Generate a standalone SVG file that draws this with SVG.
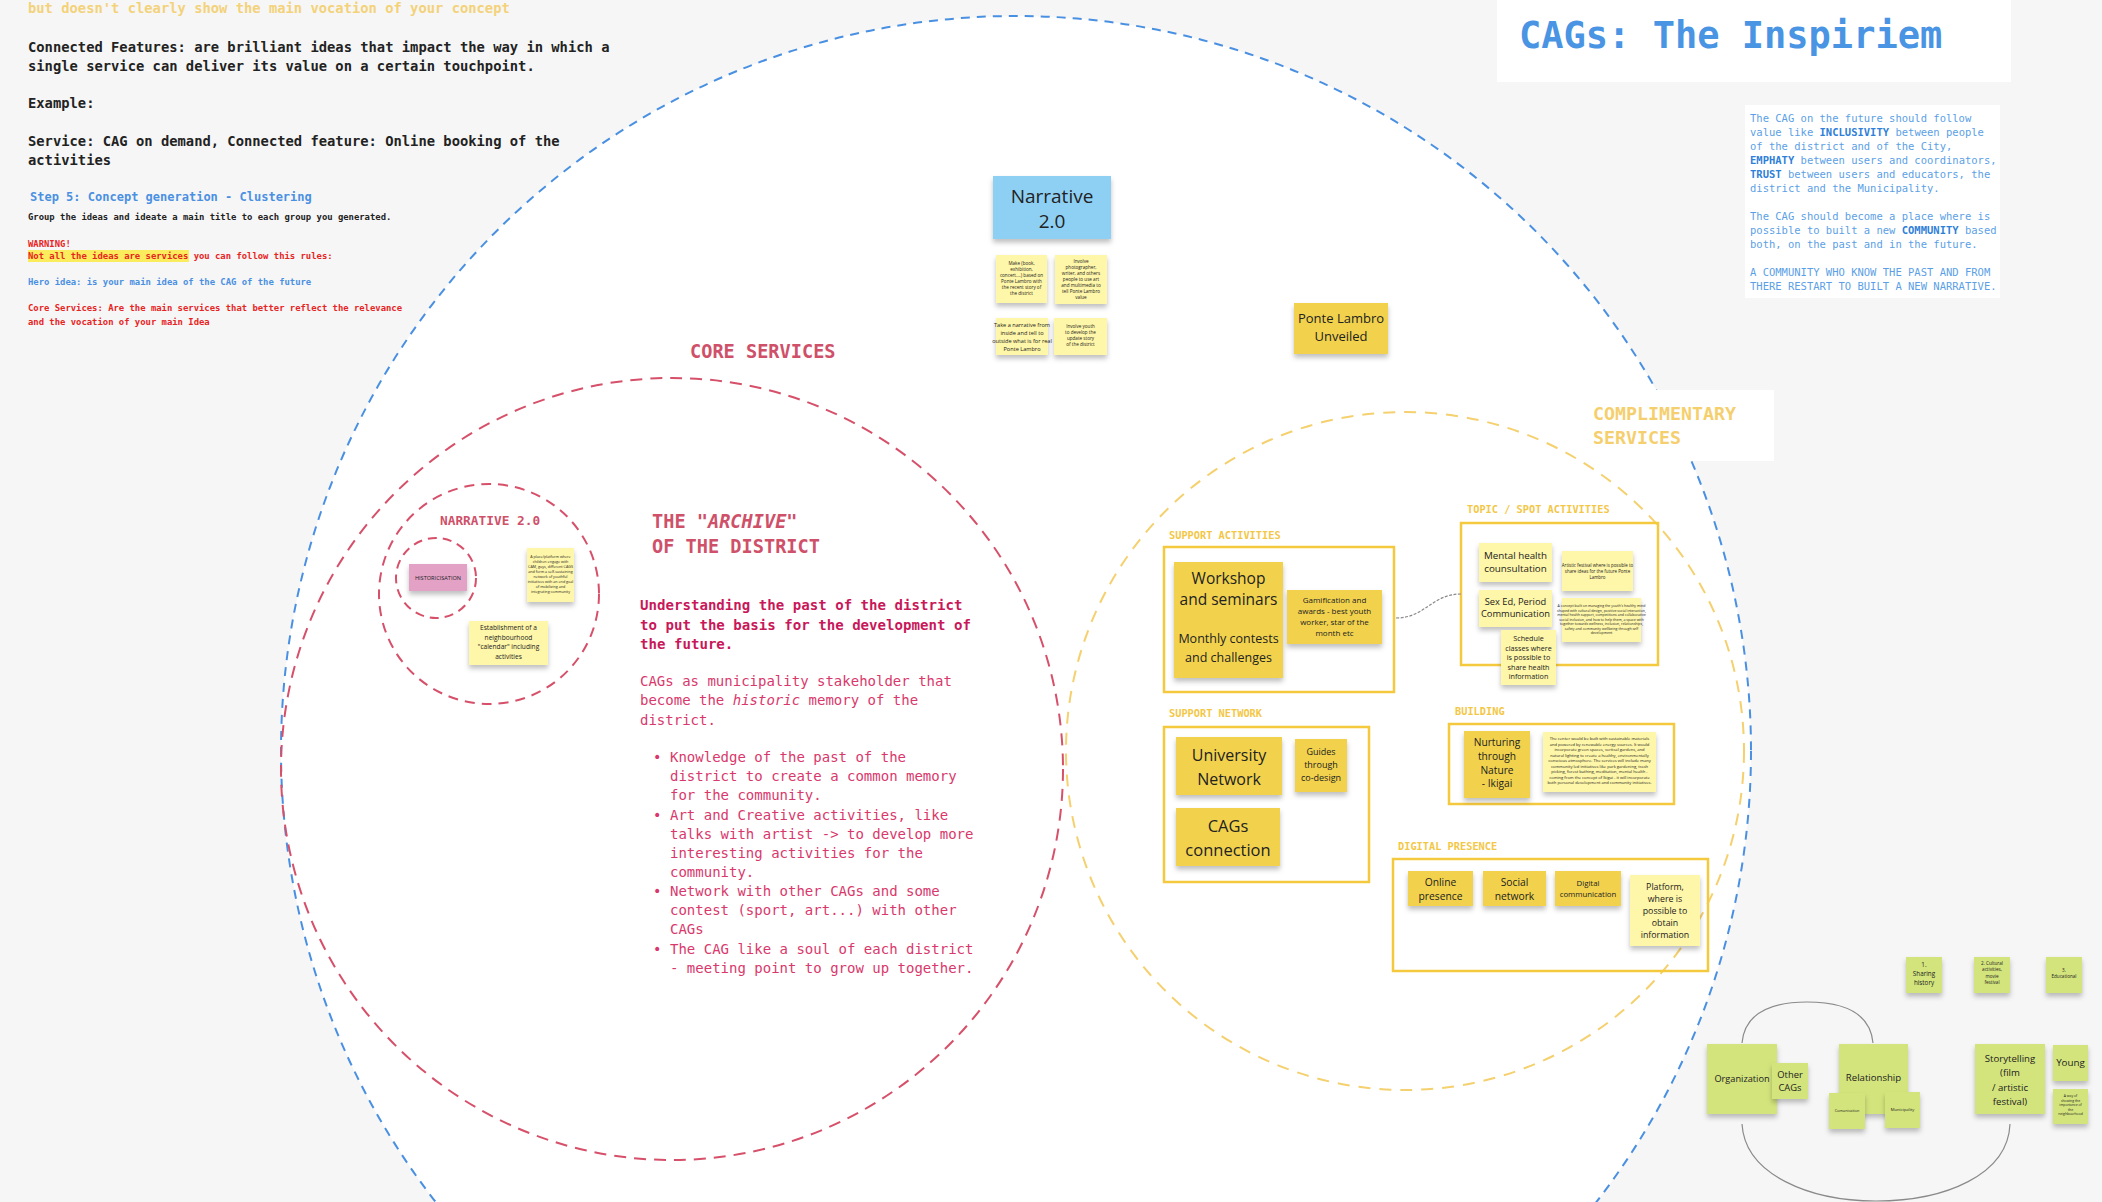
<svg xmlns="http://www.w3.org/2000/svg" width="2102" height="1202" viewBox="0 0 2102 1202">
<defs>
<filter id="sh" x="-15%" y="-15%" width="130%" height="150%">
<feDropShadow dx="0" dy="3.5" stdDeviation="2.5" flood-color="#000" flood-opacity="0.25"/>
</filter>
</defs>
<style>
.mono{font-family:"DejaVu Sans Mono","Liberation Mono",monospace}
.sans{font-family:"Open Sans","Noto Sans","Liberation Sans",sans-serif;fill:#222}
.b{font-weight:bold}
.c{text-anchor:middle}
.dy{fill:#f2d24e}
.py{fill:#fef6a8}
.gr{fill:#d3e47c}
.st{filter:url(#sh)}
.box{fill:none;stroke:#f5c93e;stroke-width:2.5}
.lab{font-family:"DejaVu Sans Mono","Liberation Mono",monospace;font-weight:bold;font-size:10.3px;fill:#f3c746}
.core{fill:#d9386c;font-size:14px}
.bl{fill:#5c9fe6;font-size:10.5px}
</style>
<rect x="0" y="0" width="2102" height="1202" fill="#f6f6f6"/>
<circle id="outer-circle" cx="1016" cy="751" r="735" fill="#ffffff" stroke="#4a90e2" stroke-width="2" stroke-dasharray="9 7"/>

<g id="instructions" class="mono">
<text x="28" y="13" font-size="13.8" class="b" fill="#f3d27a">but doesn't clearly show the main vocation of your concept</text>
<text x="28" y="52" font-size="13.8" class="b" fill="#222">Connected Features: are brilliant ideas that impact the way in which a</text>
<text x="28" y="71" font-size="13.8" class="b" fill="#222">single service can deliver its value on a certain touchpoint.</text>
<text x="28" y="108" font-size="13.8" class="b" fill="#222">Example:</text>
<text x="28" y="146" font-size="13.8" class="b" fill="#222">Service: CAG on demand, Connected feature: Online booking of the</text>
<text x="28" y="165" font-size="13.8" class="b" fill="#222">activities</text>
<text x="30" y="201" font-size="12" class="b" fill="#4a90e2">Step 5: Concept generation - Clustering</text>
<text x="28" y="220" font-size="8.9" class="b" fill="#222">Group the ideas and ideate a main title to each group you generated.</text>
<text x="28" y="247" font-size="8.9" class="b" fill="#e8241f">WARNING!</text>
<rect x="28" y="250" width="161" height="12" fill="#fbec5d"/>
<text x="28" y="259" font-size="8.9" class="b" fill="#e8241f">Not all the ideas are services you can follow this rules:</text>
<text x="28" y="285" font-size="8.9" class="b" fill="#4a90e2">Hero idea: is your main idea of the CAG of the future</text>
<text x="28" y="311" font-size="8.9" class="b" fill="#e8241f">Core Services: Are the main services that better reflect the relevance</text>
<text x="28" y="325" font-size="8.9" class="b" fill="#e8241f">and the vocation of your main Idea</text>
</g>

<g id="title">
<rect x="1497" y="0" width="514" height="82" fill="#ffffff"/>
<text x="1519" y="48" class="mono b" font-size="37" fill="#4a94e4">CAGs: The Inspiriem</text>
</g>

<g id="values-note" class="mono">
<rect x="1745" y="105" width="255" height="193" fill="#ffffff"/>
<text x="1750" y="122" class="bl">The CAG on the future should follow</text>
<text x="1750" y="136" class="bl">value like <tspan font-weight="bold" fill="#2f7fd8">INCLUSIVITY</tspan> between people</text>
<text x="1750" y="150" class="bl">of the district and of the City,</text>
<text x="1750" y="164" class="bl"><tspan font-weight="bold" fill="#2f7fd8">EMPHATY</tspan> between users and coordinators,</text>
<text x="1750" y="178" class="bl"><tspan font-weight="bold" fill="#2f7fd8">TRUST</tspan> between users and educators, the</text>
<text x="1750" y="192" class="bl">district and the Municipality.</text>
<text x="1750" y="220" class="bl">The CAG should become a place where is</text>
<text x="1750" y="234" class="bl">possible to built a new <tspan font-weight="bold" fill="#2f7fd8">COMMUNITY</tspan> based</text>
<text x="1750" y="248" class="bl">both, on the past and in the future.</text>
<text x="1750" y="276" class="bl">A COMMUNITY WHO KNOW THE PAST AND FROM</text>
<text x="1750" y="290" class="bl">THERE RESTART TO BUILT A NEW NARRATIVE.</text>
</g>

<g id="core-services">
<circle cx="672" cy="769" r="391" fill="none" stroke="#d6506a" stroke-width="2" stroke-dasharray="12 8"/>
<text x="690" y="358" class="mono b" font-size="18.6" fill="#cf5069">CORE SERVICES</text>
<text x="652" y="528" class="mono b" font-size="18.6" fill="#cf5069">THE "<tspan font-style="italic">ARCHIVE</tspan>"</text>
<text x="652" y="553" class="mono b" font-size="18.6" fill="#cf5069">OF THE DISTRICT</text>
<g class="mono">
<text x="640" y="610" class="b" font-size="14.1" fill="#c8185a">Understanding the past of the district</text>
<text x="640" y="629.5" class="b" font-size="14.1" fill="#c8185a">to put the basis for the development of</text>
<text x="640" y="649" class="b" font-size="14.1" fill="#c8185a">the future.</text>
<text x="640" y="686" class="core">CAGs as municipality stakeholder that</text>
<text x="640" y="705" class="core">become the <tspan font-style="italic">historic</tspan> memory of the</text>
<text x="640" y="725" class="core">district.</text>
<g class="core">
<text x="653" y="762">•</text><text x="670" y="762">Knowledge of the past of the</text>
<text x="670" y="781">district to create a common memory</text>
<text x="670" y="800">for the community.</text>
<text x="653" y="820">•</text><text x="670" y="820">Art and Creative activities, like</text>
<text x="670" y="839">talks with artist -&gt; to develop more</text>
<text x="670" y="858">interesting activities for the</text>
<text x="670" y="877">community.</text>
<text x="653" y="896">•</text><text x="670" y="896">Network with other CAGs and some</text>
<text x="670" y="915">contest (sport, art...) with other</text>
<text x="670" y="934">CAGs</text>
<text x="653" y="954">•</text><text x="670" y="954">The CAG like a soul of each district</text>
<text x="670" y="973">- meeting point to grow up together.</text>
</g>
</g>
</g>

<g id="narrative-circle">
<circle cx="489" cy="594" r="110" fill="none" stroke="#d6506a" stroke-width="2" stroke-dasharray="10 7"/>
<circle cx="436" cy="578" r="40" fill="none" stroke="#d6506a" stroke-width="2" stroke-dasharray="9 6"/>
<text x="440" y="525" class="mono b" font-size="12.8" fill="#cf5069">NARRATIVE 2.0</text>
</g>
<g id="historicisation">
<rect x="409" y="564" width="58" height="27" fill="#e3a1c6" class="st"/>
<text x="438" y="580" class="sans c" font-size="5.6">HISTORICISATION</text>
</g>
<g id="platform-note">
<rect x="527" y="548" width="47" height="54" class="py st"/>
<g class="sans c" font-size="3.7">
<text x="550.5" y="558">A place/platform where</text>
<text x="550.5" y="563">children engage with</text>
<text x="550.5" y="568">CAM, guys, different CAGS</text>
<text x="550.5" y="573">and form a self-sustaining</text>
<text x="550.5" y="578">network of youthful</text>
<text x="550.5" y="583">initiatives with an end goal</text>
<text x="550.5" y="588">of mobilizing and</text>
<text x="550.5" y="593">integrating community</text>
</g>
</g>
<g id="calendar">
<rect x="469" y="621" width="79" height="44" class="py st"/>
<g class="sans c" font-size="6.6">
<text x="508.5" y="630">Establishment of a</text>
<text x="508.5" y="639.5">neighbourhood</text>
<text x="508.5" y="649">"calendar" including</text>
<text x="508.5" y="658.5">activities</text>
</g>
</g>

<g id="narrative-hero">
<rect x="993" y="176" width="118" height="63" fill="#8ed0f4" class="st"/>
<text x="1052" y="203" class="sans c" font-size="19">Narrative</text>
<text x="1052" y="228" class="sans c" font-size="19">2.0</text>
</g>
<g id="narrative-a">
<rect x="996" y="255" width="51" height="48" class="py st"/>
<g class="sans c" font-size="4.6">
<text x="1021.5" y="265">Make (book,</text>
<text x="1021.5" y="271">exhibition,</text>
<text x="1021.5" y="277">concert....) based on</text>
<text x="1021.5" y="283">Ponte Lambro with</text>
<text x="1021.5" y="289">the recent story of</text>
<text x="1021.5" y="295">the district</text>
</g>
</g>
<g id="narrative-b">
<rect x="1055" y="255" width="52" height="49" class="py st"/>
<g class="sans c" font-size="4.6">
<text x="1081" y="263">Involve</text>
<text x="1081" y="269">photographer,</text>
<text x="1081" y="275">writer, and others</text>
<text x="1081" y="281">people to use art</text>
<text x="1081" y="287">and multimedia to</text>
<text x="1081" y="293">tell Ponte Lambro</text>
<text x="1081" y="299">value</text>
</g>
</g>
<g id="narrative-c">
<rect x="996" y="318" width="52" height="37" class="py st"/>
<g class="sans c" font-size="5.6">
<text x="1022" y="327">Take a narrative from</text>
<text x="1022" y="335">inside and tell to</text>
<text x="1022" y="343">outside what is for real</text>
<text x="1022" y="351">Ponte Lambro</text>
</g>
</g>
<g id="narrative-d">
<rect x="1054" y="318" width="53" height="37" class="py st"/>
<g class="sans c" font-size="4.6">
<text x="1080.5" y="328">Involve youth</text>
<text x="1080.5" y="334">to develop the</text>
<text x="1080.5" y="340">update story</text>
<text x="1080.5" y="346">of the district</text>
</g>
</g>
<g id="ponte-lambro">
<rect x="1294" y="303" width="94" height="51" class="dy st"/>
<text x="1341" y="323" class="sans c" font-size="13">Ponte Lambro</text>
<text x="1341" y="341" class="sans c" font-size="13">Unveiled</text>
</g>

<g id="complementary-services">
<circle cx="1405" cy="751" r="339" fill="none" stroke="#f5d06e" stroke-width="2" stroke-dasharray="12 9"/>
<rect x="1577" y="390" width="197" height="71" fill="#ffffff"/>
<text x="1593" y="420" class="mono b" font-size="18.3" fill="#f5cf6e">COMPLIMENTARY</text>
<text x="1593" y="444" class="mono b" font-size="18.3" fill="#f5cf6e">SERVICES</text>
</g>

<g id="support-activities">
<text x="1169" y="539" class="lab">SUPPORT ACTIVITIES</text>
<rect x="1164" y="547" width="230" height="145" class="box"/>
<rect x="1174" y="562" width="109" height="116" class="dy st"/>
<text x="1228.5" y="584" class="sans c" font-size="15.5">Workshop</text>
<text x="1228.5" y="605" class="sans c" font-size="15.5">and seminars</text>
<text x="1228.5" y="643" class="sans c" font-size="12.5">Monthly contests</text>
<text x="1228.5" y="662" class="sans c" font-size="12.5">and challenges</text>
<rect x="1287" y="590" width="95" height="54" class="dy st"/>
<g class="sans c" font-size="8">
<text x="1334.5" y="603">Gamification and</text>
<text x="1334.5" y="614">awards - best youth</text>
<text x="1334.5" y="625">worker, star of the</text>
<text x="1334.5" y="636">month etc</text>
</g>
</g>

<g id="topic-spot">
<text x="1467" y="513" class="lab">TOPIC / SPOT ACTIVITIES</text>
<rect x="1461" y="523" width="197" height="142" class="box"/>
<rect x="1479" y="543" width="73" height="39" class="py st"/>
<text x="1515.5" y="559" class="sans c" font-size="9.8">Mental health</text>
<text x="1515.5" y="572" class="sans c" font-size="9.8">counsultation</text>
<rect x="1562" y="551" width="71" height="40" class="py st"/>
<g class="sans c" font-size="4.4">
<text x="1597.5" y="567">Artistic festival where is possible to</text>
<text x="1597.5" y="573">share ideas for the future Ponte</text>
<text x="1597.5" y="579">Lambro</text>
</g>
<rect x="1479" y="590" width="73" height="37" class="py st"/>
<text x="1515.5" y="605" class="sans c" font-size="9.3">Sex Ed, Period</text>
<text x="1515.5" y="617" class="sans c" font-size="9.3">Communication</text>
<rect x="1562" y="598" width="79" height="44" class="py st"/>
<g class="sans c" font-size="3.5">
<text x="1601.5" y="607">A concept built on managing the youth's healthy mind</text>
<text x="1601.5" y="611.5">shaped with cultural design, positive social interaction,</text>
<text x="1601.5" y="616">mental health support, competitions and collaborative</text>
<text x="1601.5" y="620.5">social inclusion, and how to help them, a space with</text>
<text x="1601.5" y="625">together towards wellness, inclusion, relationships,</text>
<text x="1601.5" y="629.5">safety and community wellbeing through self</text>
<text x="1601.5" y="634">development</text>
</g>
<rect x="1501" y="630" width="55" height="55" class="py st"/>
<g class="sans c" font-size="7.2">
<text x="1528.5" y="641">Schedule</text>
<text x="1528.5" y="650.5">classes where</text>
<text x="1528.5" y="660">is possible to</text>
<text x="1528.5" y="669.5">share health</text>
<text x="1528.5" y="679">information</text>
</g>
</g>

<g id="support-network">
<text x="1169" y="717" class="lab">SUPPORT NETWORK</text>
<rect x="1164" y="727" width="205" height="155" class="box"/>
<rect x="1176" y="737" width="106" height="58" class="dy st"/>
<text x="1229" y="761" class="sans c" font-size="16">University</text>
<text x="1229" y="785" class="sans c" font-size="16">Network</text>
<rect x="1295" y="739" width="52" height="53" class="dy st"/>
<text x="1321" y="755" class="sans c" font-size="9">Guides</text>
<text x="1321" y="768" class="sans c" font-size="9">through</text>
<text x="1321" y="781" class="sans c" font-size="9">co-design</text>
<rect x="1176" y="808" width="104" height="58" class="dy st"/>
<text x="1228" y="832" class="sans c" font-size="16.5">CAGs</text>
<text x="1228" y="856" class="sans c" font-size="16.5">connection</text>
</g>

<g id="building">
<text x="1455" y="715" class="lab">BUILDING</text>
<rect x="1449" y="724" width="225" height="80" class="box"/>
<rect x="1464" y="731" width="66" height="67" class="dy st"/>
<g class="sans c" font-size="10.2">
<text x="1497" y="746">Nurturing</text>
<text x="1497" y="760">through</text>
<text x="1497" y="773.5">Nature</text>
<text x="1497" y="787">- Ikigai</text>
</g>
<rect x="1543" y="732" width="113" height="60" class="py st"/>
<g class="sans c" font-size="4.1">
<text x="1599.5" y="740">The center would be built with sustainable materials</text>
<text x="1599.5" y="745.5">and powered by renewable energy sources. It would</text>
<text x="1599.5" y="751">incorporate green spaces, vertical gardens, and</text>
<text x="1599.5" y="756.5">natural lighting to create a healthy, environmentally</text>
<text x="1599.5" y="762">conscious atmosphere. The services will include many</text>
<text x="1599.5" y="767.5">community led initiatives like park gardening, trash</text>
<text x="1599.5" y="773">picking, forest bathing, meditation, mental health -</text>
<text x="1599.5" y="778.5">coming from the concept of Ikigai - it will incorporate</text>
<text x="1599.5" y="784">both personal development and community initiatives.</text>
</g>
</g>

<g id="digital-presence">
<text x="1398" y="850" class="lab">DIGITAL PRESENCE</text>
<rect x="1393" y="859" width="315" height="112" class="box"/>
<rect x="1408" y="871" width="65" height="35" class="dy st"/>
<text x="1440.5" y="886" class="sans c" font-size="10.3">Online</text>
<text x="1440.5" y="900" class="sans c" font-size="10.3">presence</text>
<rect x="1483" y="871" width="63" height="35" class="dy st"/>
<text x="1514.5" y="886" class="sans c" font-size="10.3">Social</text>
<text x="1514.5" y="900" class="sans c" font-size="10.3">network</text>
<rect x="1555" y="871" width="66" height="35" class="dy st"/>
<text x="1588" y="886" class="sans c" font-size="7.8">Digital</text>
<text x="1588" y="897" class="sans c" font-size="7.8">communication</text>
<rect x="1630" y="875" width="70" height="71" class="py st"/>
<g class="sans c" font-size="8.8">
<text x="1665" y="890">Platform,</text>
<text x="1665" y="902">where is</text>
<text x="1665" y="914">possible to</text>
<text x="1665" y="926">obtain</text>
<text x="1665" y="938">information</text>
</g>
</g>

<g id="connectors" fill="none" stroke="#8a8a8a" stroke-width="1.2">
<path d="M1396 618 C1425 618 1432 594 1461 594" stroke-dasharray="3 1.5"/>
<path d="M1742 1043 C1745 1010 1775 1002 1807 1002 C1840 1002 1870 1010 1873 1043"/>
<path d="M1742 1124 C1745 1175 1810 1201 1876 1201 C1945 1201 2008 1175 2010 1124"/>
</g>

<g id="sharing-history">
<rect x="1906" y="957" width="36" height="36" class="gr st"/>
<text x="1924" y="967" class="sans c" font-size="6.3">1.</text>
<text x="1924" y="976" class="sans c" font-size="6.3">Sharing</text>
<text x="1924" y="985" class="sans c" font-size="6.3">history</text>
</g>
<g id="cultural-activities">
<rect x="1974" y="957" width="36" height="36" class="gr st"/>
<g class="sans c" font-size="4.6">
<text x="1992" y="965">2. Cultural</text>
<text x="1992" y="971">activities,</text>
<text x="1992" y="977.5">movie</text>
<text x="1992" y="984">festival</text>
</g>
</g>
<g id="educational">
<rect x="2046" y="957" width="36" height="36" class="gr st"/>
<text x="2064" y="972" class="sans c" font-size="4.6">3.</text>
<text x="2064" y="978" class="sans c" font-size="4.6">Educational</text>
</g>
<g id="organization">
<rect x="1707" y="1044" width="70" height="70" class="gr st"/>
<text x="1742" y="1082" class="sans c" font-size="9.2">Organization</text>
</g>
<g id="other-cags">
<rect x="1772" y="1063" width="36" height="36" class="gr st"/>
<text x="1790" y="1078" class="sans c" font-size="9.4">Other</text>
<text x="1790" y="1091" class="sans c" font-size="9.4">CAGs</text>
</g>
<g id="relationship">
<rect x="1839" y="1044" width="69" height="70" class="gr st"/>
<text x="1873.5" y="1081" class="sans c" font-size="9.6">Relationship</text>
</g>
<g id="comunication">
<rect x="1829" y="1093" width="36" height="36" class="gr st"/>
<text x="1847" y="1112" class="sans c" font-size="3.8">Comunication</text>
</g>
<g id="municipality">
<rect x="1885" y="1092" width="35" height="36" class="gr st"/>
<text x="1902.5" y="1111" class="sans c" font-size="4.2">Municipality</text>
</g>
<g id="storytelling">
<rect x="1975" y="1044" width="70" height="70" class="gr st"/>
<g class="sans c" font-size="9.6">
<text x="2010" y="1062">Storytelling</text>
<text x="2010" y="1076">(film</text>
<text x="2010" y="1090.5">/ artistic</text>
<text x="2010" y="1105">festival)</text>
</g>
</g>
<g id="young">
<rect x="2053" y="1045" width="35" height="36" class="gr st"/>
<text x="2070.5" y="1066" class="sans c" font-size="9.8">Young</text>
</g>
<g id="way-of-showing">
<rect x="2053" y="1089" width="35" height="35" class="gr st"/>
<g class="sans c" font-size="3.4">
<text x="2070.5" y="1097">A way of</text>
<text x="2070.5" y="1101.5">showing the</text>
<text x="2070.5" y="1106">importance of</text>
<text x="2070.5" y="1110.5">the</text>
<text x="2070.5" y="1115">neighbourhood</text>
</g>
</g>
</svg>
